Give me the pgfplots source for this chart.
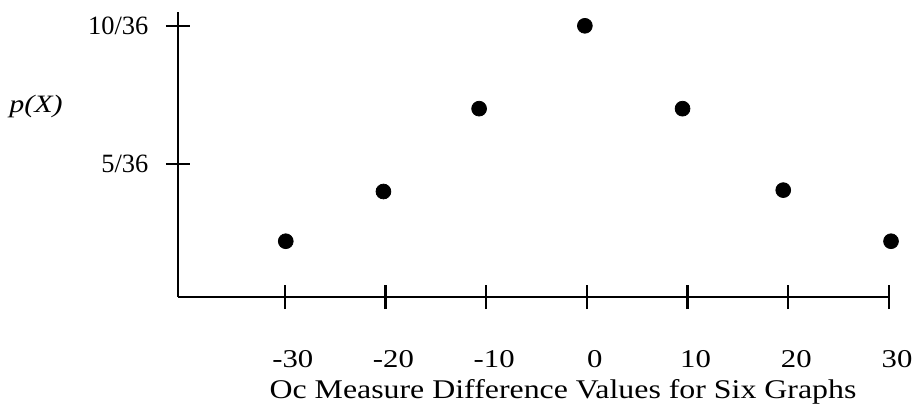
\documentclass[border=0pt]{standalone}
\usepackage{pgfplots}
\pgfplotsset{compat=1.18}
\usepackage{fontspec}
\setmainfont{Liberation Serif}
\newfontfamily\widefont{Liberation Serif}[FakeStretch=1.2]
\newfontfamily\widerfont{Liberation Serif}[FakeStretch=1.18]
\begin{document}
\begin{tikzpicture}
\begin{axis}[
  scale only axis,
  width=355.5pt, height=142.5pt,
  xmin=-40.6, xmax=30, ymin=0.18, ymax=10.5,
  axis lines*=left,
  axis line style={line width=1.2pt, black},
  tick align=center,
  major tick length=12pt,
  tick style={line width=1.2pt, black},
  clip=false,
  xtick={-30,-20,-10,0,10,20,30},
  xticklabels={-30,-20,-10,0,10,20,30},
  ytick={5,10},
  yticklabels={5/36,10/36},
  xticklabel style={font=\widefont\fontsize{12.8}{15}\selectfont, anchor=base, inner sep=0pt, yshift=-29pt, xshift=4pt},
  yticklabel style={font=\fontsize{13.2}{15}\selectfont, anchor=east, xshift=-5.3pt},
  xlabel={Oc Measure Difference Values for Six Graphs},
  xlabel style={font=\widerfont\fontsize{13.5}{16}\selectfont, at={(axis description cs:0.5415,0)}, anchor=base, inner sep=0pt, yshift=-50.5pt},
  ylabel={\textit{p}(\textit{X})},
  ylabel style={font=\widefont\fontsize{12.5}{15}\selectfont\itshape, rotate=-90, at={(axis description cs:-0.1997,0.670)}, anchor=center},
]
\addplot[only marks, mark=*, mark size=3.7pt, black] coordinates {
  (-29.9,2.2) (-20.2,4) (-10.7,7) (-0.2,10) (9.5,7) (19.5,4.05) (30.2,2.2)
};
\end{axis}
\pgfresetboundingbox
\path[use as bounding box] (-89pt,-56pt) rectangle (368.5pt,148.5pt);
\end{tikzpicture}
\end{document}
